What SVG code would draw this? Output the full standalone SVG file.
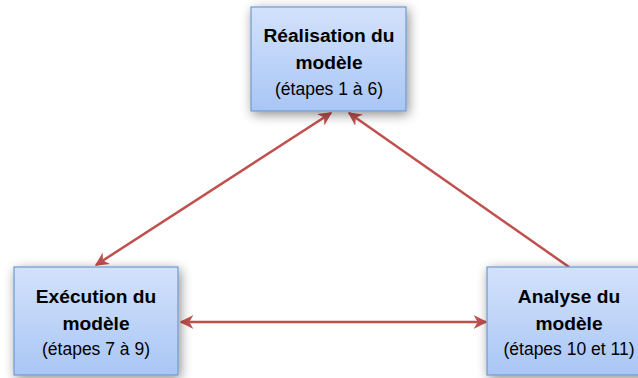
<svg xmlns="http://www.w3.org/2000/svg" width="638" height="378" viewBox="0 0 638 378">
<style>
.box{fill:url(#g);stroke:#6f98cf;stroke-width:1.2;filter:url(#sh)}
.t{font-family:"Liberation Sans",Arial,sans-serif;font-size:19.2px;font-weight:bold;fill:#000;text-anchor:middle}
.s{font-family:"Liberation Sans",Arial,sans-serif;font-size:17.5px;fill:#000;text-anchor:middle}
.c{stroke:#c0504d;stroke-width:2.5;fill:none}
</style>
<defs>
<linearGradient id="g" x1="0" y1="0" x2="0" y2="1">
<stop offset="0" stop-color="#d3e2fb"/>
<stop offset="1" stop-color="#a9c6f5"/>
</linearGradient>
<filter id="sh" x="-30%" y="-30%" width="160%" height="160%">
<feGaussianBlur in="SourceAlpha" stdDeviation="6"/>
<feOffset dx="2" dy="3" result="b"/>
<feComponentTransfer><feFuncA type="linear" slope="0.45"/></feComponentTransfer>
<feMerge><feMergeNode/><feMergeNode in="SourceGraphic"/></feMerge>
</filter>
<marker id="ah" viewBox="0 0 10 10" refX="9" refY="5" markerWidth="5.5" markerHeight="5.5" orient="auto-start-reverse" markerUnits="strokeWidth">
<path d="M0,0 L10,5 L0,10 L3,5 z" fill="#c0504d"/>
</marker>
</defs>
<rect width="638" height="378" fill="#fff"/>
<g id="connectors">
<line class="c" x1="96" y1="265" x2="331" y2="113" marker-start="url(#ah)" marker-end="url(#ah)"/>
<line class="c" x1="569" y1="267" x2="349" y2="113" marker-end="url(#ah)"/>
<line class="c" x1="181" y1="322" x2="486" y2="322" marker-start="url(#ah)" marker-end="url(#ah)"/>
</g>
<g id="realisation">
<rect class="box" x="251" y="7" width="155" height="104"/>
<text class="t" x="329" y="42">Réalisation du</text>
<text class="t" x="329" y="69">modèle</text>
<text class="s" x="329" y="95">(étapes 1 à 6)</text>
</g>
<g id="execution">
<rect class="box" x="14" y="267" width="164" height="108"/>
<text class="t" x="96" y="303">Exécution du</text>
<text class="t" x="96" y="330">modèle</text>
<text class="s" x="96" y="355">(étapes 7 à 9)</text>
</g>
<g id="analyse">
<rect class="box" x="487" y="267" width="160" height="108"/>
<text class="t" x="569" y="303">Analyse du</text>
<text class="t" x="569" y="330">modèle</text>
<text class="s" x="569" y="355">(étapes 10 et 11)</text>
</g>
</svg>
